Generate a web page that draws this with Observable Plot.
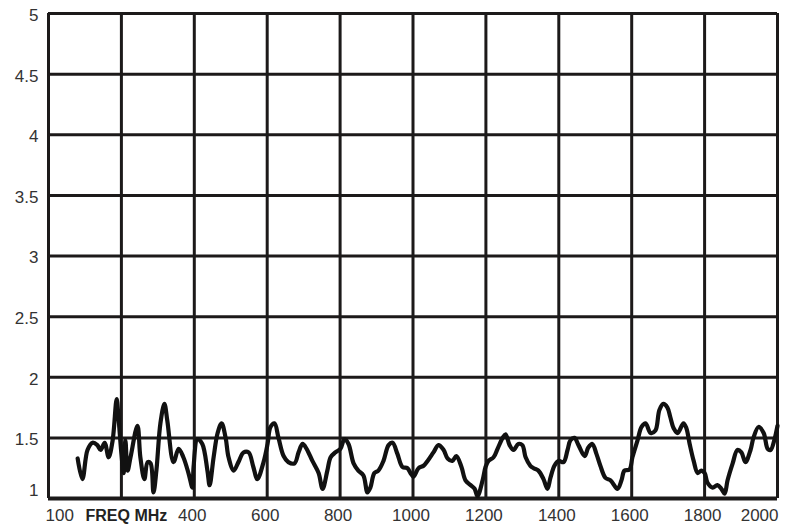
<!DOCTYPE html>
<html>
<head>
<meta charset="utf-8">
<script src="https://cdn.jsdelivr.net/npm/d3@7"></script>
<script src="https://cdn.jsdelivr.net/npm/@observablehq/plot@0.6"></script>
<style>
  html, body { margin: 0; padding: 0; background: #fff; }
  #chart svg { display: block; }
</style>
</head>
<body>
<div id="chart"></div>
<script>
// Frequency (MHz, on the chart's linear grid) and VSWR values
const freq = [80, 93, 107, 121, 134, 143, 154, 165, 176, 187, 192, 200, 206, 211, 217, 225, 244, 252, 263, 272,
  280, 288, 296, 307, 318, 326, 343, 357, 370, 384, 395, 398, 409, 422, 436, 442, 453, 464, 475, 486,
  494, 508, 521, 535, 549, 562, 573, 590, 601, 609, 620, 631, 645, 658, 675, 686, 697, 708, 724, 741,
  752, 765, 774, 787, 801, 812, 823, 837, 850, 864, 875, 883, 894, 905, 919, 933, 944, 957, 971, 985,
  993, 1001, 1015, 1029, 1040, 1056, 1070, 1084, 1095, 1108, 1119, 1133, 1144, 1158, 1169, 1177, 1191, 1199, 1207, 1221,
  1232, 1246, 1254, 1265, 1276, 1289, 1300, 1309, 1322, 1331, 1344, 1358, 1369, 1377, 1388, 1399, 1413, 1424, 1432, 1443,
  1454, 1471, 1481, 1492, 1503, 1514, 1528, 1542, 1561, 1572, 1580, 1594, 1602, 1616, 1627, 1638, 1652, 1665, 1676, 1687,
  1698, 1706, 1715, 1726, 1742, 1750, 1759, 1770, 1781, 1791, 1800, 1808, 1822, 1835, 1846, 1855, 1863, 1877, 1890, 1901,
  1912, 1926, 1934, 1948, 1962, 1973, 1981, 1992, 2000];
const vswr = [1.33, 1.16, 1.40, 1.46, 1.44, 1.40, 1.46, 1.34, 1.48, 1.82, 1.67, 1.37, 1.21, 1.48, 1.23, 1.34, 1.60, 1.34, 1.16, 1.30,
  1.29, 1.05, 1.23, 1.62, 1.78, 1.64, 1.30, 1.41, 1.34, 1.21, 1.09, 1.26, 1.49, 1.45, 1.23, 1.11, 1.34, 1.54, 1.62, 1.50,
  1.34, 1.23, 1.30, 1.38, 1.38, 1.26, 1.16, 1.30, 1.45, 1.59, 1.62, 1.50, 1.35, 1.30, 1.29, 1.38, 1.45, 1.41, 1.31, 1.21,
  1.08, 1.23, 1.34, 1.38, 1.41, 1.49, 1.45, 1.29, 1.23, 1.19, 1.05, 1.09, 1.21, 1.23, 1.31, 1.44, 1.46, 1.37, 1.26, 1.25,
  1.21, 1.18, 1.25, 1.27, 1.31, 1.38, 1.44, 1.40, 1.33, 1.31, 1.35, 1.26, 1.15, 1.11, 1.08, 1.02, 1.15, 1.26, 1.31, 1.34,
  1.41, 1.50, 1.53, 1.44, 1.40, 1.45, 1.44, 1.34, 1.27, 1.25, 1.23, 1.16, 1.08, 1.17, 1.27, 1.31, 1.30, 1.40, 1.48, 1.50,
  1.44, 1.35, 1.42, 1.45, 1.37, 1.27, 1.17, 1.15, 1.08, 1.15, 1.23, 1.24, 1.34, 1.48, 1.59, 1.62, 1.54, 1.56, 1.73, 1.78,
  1.75, 1.67, 1.58, 1.54, 1.62, 1.58, 1.45, 1.31, 1.21, 1.23, 1.21, 1.13, 1.09, 1.11, 1.08, 1.04, 1.15, 1.29, 1.40, 1.38,
  1.30, 1.40, 1.50, 1.59, 1.54, 1.41, 1.40, 1.49, 1.60];

// Axis ticks and labels
const xTickValues = [0, 200, 400, 600, 800, 1000, 1200, 1400, 1600, 1800, 2000];
const xTickLabels = ["100", "FREQ MHz", "400", "600", "800", "1000", "1200", "1400", "1600", "1800", "2000"];
const yTickValues = [1, 1.5, 2, 2.5, 3, 3.5, 4, 4.5, 5];
const yTickLabels = ["1", "1.5", "2", "2.5", "3", "3.5", "4", "4.5", "5"];

const curve = freq.map((f, i) => ({ f, v: vswr[i] }));
const xTicks = xTickValues.map((x, i) => ({ x, label: xTickLabels[i], i }));
const yTicks = yTickValues.map((y, i) => ({ y, label: yTickLabels[i], i }));
const lastX = xTicks.length - 1;

const ink = "#1c1a1a";
const font = "'Liberation Sans', Arial, sans-serif";

const chart = Plot.plot({
  width: 785,
  height: 530,
  marginLeft: 48,
  marginRight: 8,
  marginTop: 13,
  marginBottom: 32,
  x: { domain: [0, 2000], axis: null },
  y: { domain: [1, 5], axis: null },
  style: { fontFamily: font, background: "#fff" },
  marks: [
    Plot.ruleX(xTickValues, { stroke: ink, strokeWidth: 3 }),
    Plot.ruleY(yTickValues, { stroke: ink, strokeWidth: 3 }),
    Plot.ruleY([1], { stroke: ink, strokeWidth: 4 }),
    Plot.line(curve, {
      x: "f", y: "v", stroke: "#111", strokeWidth: 4.2,
      curve: "catmull-rom", strokeLinejoin: "round", strokeLinecap: "round"
    }),
    // y tick labels
    Plot.text(yTicks.filter(d => d.i > 0), {
      x: 0, y: "y", text: "label", textAnchor: "end", dx: -10, dy: 2,
      fontSize: 17, fill: "#333"
    }),
    Plot.text(yTicks.filter(d => d.i === 0), {
      x: 0, y: "y", text: "label", textAnchor: "end", dx: -10, dy: -8,
      fontSize: 17, fill: "#333"
    }),
    // x tick labels
    Plot.text(xTicks.filter(d => d.i === 0), {
      x: "x", y: 1, text: "label", textAnchor: "start", dx: -3, dy: 17,
      fontSize: 17, fill: "#333"
    }),
    Plot.text(xTicks.filter(d => d.i === 1), {
      x: "x", y: 1, text: "label", dx: 5, dy: 17,
      fontSize: 16, fontWeight: "bold", fill: "#222"
    }),
    Plot.text(xTicks.filter(d => d.i > 1 && d.i < lastX), {
      x: "x", y: 1, text: "label", dx: -2, dy: 17,
      fontSize: 17, fill: "#333"
    }),
    Plot.text(xTicks.filter(d => d.i === lastX), {
      x: "x", y: 1, text: "label", textAnchor: "end", dx: 1, dy: 17,
      fontSize: 17, fill: "#333"
    })
  ]
});

document.getElementById("chart").appendChild(chart);
</script>
</body>
</html>
